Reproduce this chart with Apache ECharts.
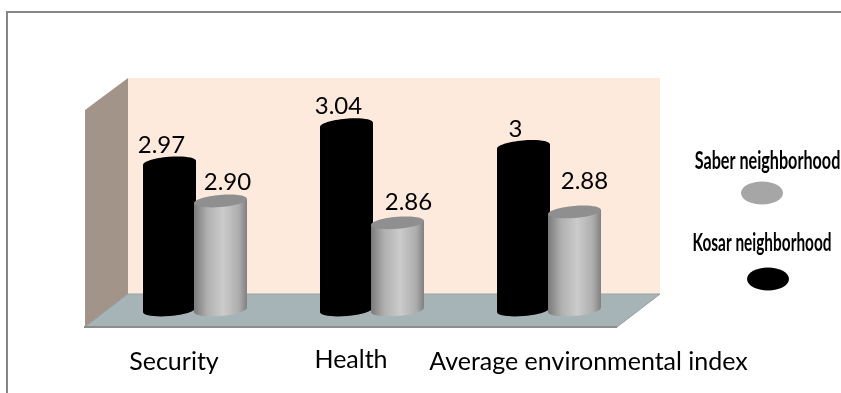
<!DOCTYPE html>
<html>
<head>
<meta charset="utf-8">
<style>html,body{margin:0;padding:0;background:#fff}#chart{width:841px;height:393px}</style>
<script src="https://cdn.jsdelivr.net/npm/echarts@6/dist/echarts.min.js"></script>
</head>
<body>
<div id="chart"></div>
<script>
// Neighbourhood scores per index
const categories = ['Security', 'Health', 'Average environmental index'];
const kosarValues = [2.97, 3.04, 3];
const saberValues = [2.90, 2.86, 2.88];
const kosarLabels = ['2.97', '3.04', '3'];
const saberLabels = ['2.90', '2.86', '2.88'];

const FONT = 'Lato, "Open Sans", sans-serif';
const BAR_W = 53, RY = 6, TILT = 0.085;
const AXIS_SIZE = 25;

// Nudges that keep each value label clear of its neighbour: [dx, dy]
const kosarShift = [[-8, -18], [-8, -18], [-8, -17]];
const saberShift = [[7, -19], [11, -21], [10, -31]];

const greyBody = {
  type: 'linear', x: 0, y: 0, x2: 1, y2: 0,
  colorStops: [
    { offset: 0, color: '#7a7a7a' },
    { offset: 0.25, color: '#b0b0b0' },
    { offset: 0.55, color: '#cbcbcb' },
    { offset: 0.85, color: '#adadad' },
    { offset: 1, color: '#808080' }
  ]
};

function cylinder(values, labels, shift, side, body, cap) {
  return function (params, api) {
    const i = api.value(0);
    const top = api.coord([i, api.value(1)]);
    const base = api.coord([i, 2.7]);
    const cx = top[0] + side * 25.5;
    const rx = BAR_W / 2;
    const dy = Math.sin(TILT) * rx;
    const ellipse = (y, fill) => ({
      type: 'ellipse',
      shape: { cx: cx, cy: y, rx: rx, ry: RY },
      rotation: TILT,
      originX: cx, originY: y,
      style: { fill: fill }
    });
    return {
      type: 'group',
      children: [
        ellipse(base[1], body),
        {
          type: 'polygon',
          shape: { points: [
            [cx - rx, top[1] + dy], [cx + rx, top[1] - dy],
            [cx + rx, base[1] - dy], [cx - rx, base[1] + dy]
          ] },
          style: { fill: body }
        },
        ellipse(top[1], cap),
        {
          type: 'text',
          style: {
            x: cx + shift[i][0], y: top[1] + shift[i][1],
            text: labels[i], fill: '#000',
            font: '24px ' + FONT, align: 'center', verticalAlign: 'middle'
          }
        }
      ]
    };
  };
}

// Room behind the columns: side wall, back wall and floor
const roomShapes = [
  { type: 'polygon', z: 0, shape: { points: [[85, 110], [128, 78], [128, 294], [85, 327]] }, style: { fill: '#a29489' } },
  { type: 'rect', z: 0, shape: { x: 128, y: 78, width: 532, height: 216 }, style: { fill: '#fdeadc' } },
  { type: 'polygon', z: 0, shape: { points: [[128, 294], [660, 294], [617, 327], [85, 327]] }, style: { fill: '#a7b4b7' } },
  { type: 'polyline', z: 0, shape: { points: [[85, 327], [128, 294], [660, 294], [617, 327]] }, style: { fill: null, stroke: '#96a0a2', lineWidth: 1 } },
  { type: 'line', z: 0, shape: { x1: 84, y1: 327, x2: 617, y2: 327 }, style: { stroke: '#8c8c8c', lineWidth: 2 } },
  { type: 'polyline', z: 0, shape: { points: [[7, 393], [7, 12], [841, 12]] }, style: { fill: null, stroke: '#868686', lineWidth: 2 } }
];

// Condensed key on the right
function keyEntry(name, squeeze, textX, textY, ellipseX, ellipseY, fill) {
  return [
    {
      type: 'text', z: 5, x: textX, y: textY, scaleX: squeeze, scaleY: 1.1, originX: 0, originY: 0,
      style: { x: 0, y: 0, text: name, fill: '#000', font: 'bold 22px ' + FONT, align: 'center', verticalAlign: 'middle' }
    },
    { type: 'ellipse', z: 5, shape: { cx: ellipseX, cy: ellipseY, rx: 21, ry: 11.5 }, style: { fill: fill } }
  ];
}

const chart = echarts.init(document.getElementById('chart'), null, { renderer: 'canvas' });
chart.setOption({
  animation: false,
  backgroundColor: '#fff',
  grid: { left: 106.5, width: 531, top: 92, height: 218 },
  xAxis: {
    type: 'category',
    data: categories,
    axisLine: { show: false },
    axisTick: { show: false },
    axisLabel: {
      interval: 0,
      margin: 37,
      color: '#000',
      fontFamily: FONT,
      fontSize: AXIS_SIZE,
      formatter: (v, i) => '{c' + i + '|' + v + '}',
      rich: {
        c0: { padding: [2, 42, 0, 0], fontFamily: FONT, fontSize: AXIS_SIZE },
        c1: { padding: [0, 42, 0, 0], fontFamily: FONT, fontSize: AXIS_SIZE },
        c2: { padding: [2, 0, 0, 79], fontFamily: FONT, fontSize: AXIS_SIZE }
      }
    }
  },
  yAxis: { type: 'value', min: 2.7, max: 3.1, show: false },
  graphic: {
    elements: roomShapes.concat(
      keyEntry('Saber neighborhood', 0.735, 767.5, 161, 762, 193, '#a6a6a6'),
      keyEntry('Kosar neighborhood', 0.70, 762, 243, 768, 279, '#000')
    )
  },
  series: [
    {
      type: 'custom', name: 'Kosar neighborhood', z: 3, silent: true,
      data: kosarValues.map((v, i) => [i, v]),
      encode: { x: 0, y: 1 },
      renderItem: cylinder(kosarValues, kosarLabels, kosarShift, -1, '#000', '#000')
    },
    {
      type: 'custom', name: 'Saber neighborhood', z: 4, silent: true,
      data: saberValues.map((v, i) => [i, v]),
      encode: { x: 0, y: 1 },
      renderItem: cylinder(saberValues, saberLabels, saberShift, 1, greyBody, '#8f8f8f')
    }
  ]
});
</script>
</body>
</html>
